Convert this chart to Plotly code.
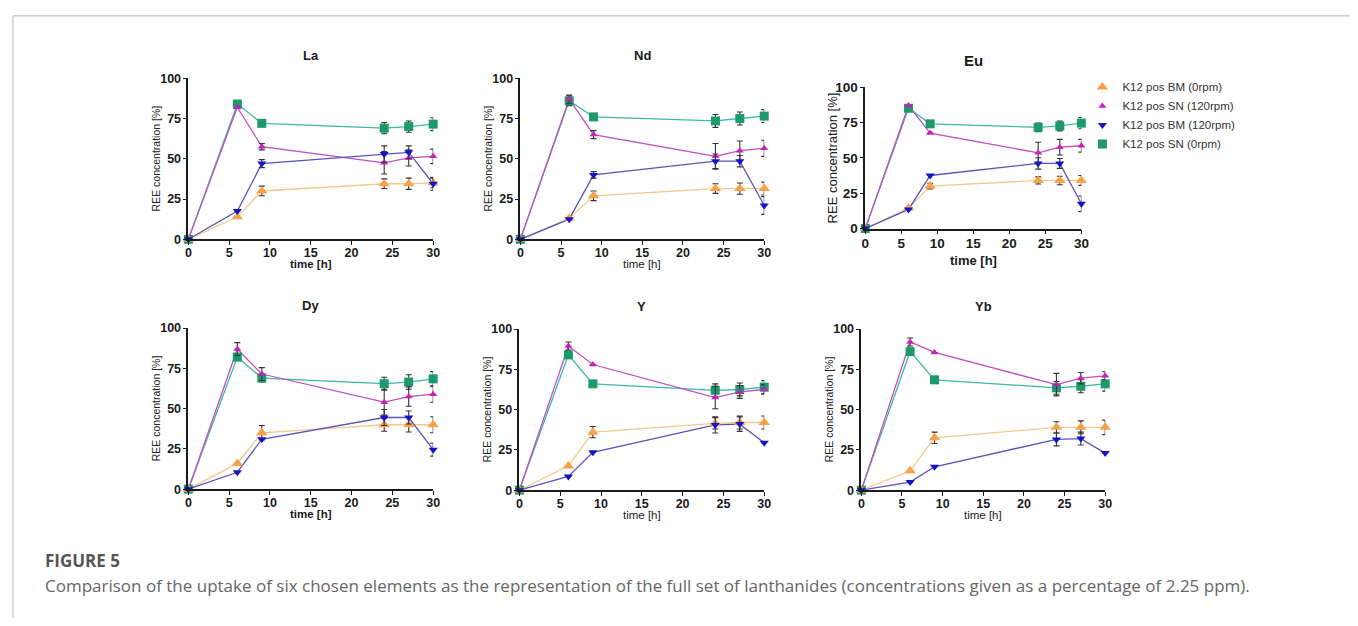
import plotly.graph_objects as go

W, H = 1358, 626

time_h = [0, 6, 9, 24, 27, 30]
elements = ["La", "Nd", "Eu", "Dy", "Y", "Yb"]

series_names = ["K12 pos BM (0rpm)", "K12 pos SN (120rpm)", "K12 pos BM (120rpm)", "K12 pos SN (0rpm)"]

# mean values [%] per element, per series (order as series_names)
bm0 = {
    "La": [0, 14, 30, 34.5, 34.5, 35],
    "Nd": [0, 13, 27, 31.5, 31.5, 31.5],
    "Eu": [0, 14.5, 30, 34, 34, 34],
    "Dy": [0, 16, 35, 40, 40, 40],
    "Y":  [0, 15, 36, 41.5, 42, 42],
    "Yb": [0, 12, 32.5, 39, 39, 39],
}
sn120 = {
    "La": [0, 82, 57.5, 47.5, 50.5, 51.5],
    "Nd": [0, 87, 65, 51.5, 55, 56.5],
    "Eu": [0, 87, 67.5, 53.5, 57.5, 58.5],
    "Dy": [0, 87, 71.5, 54, 57.5, 59],
    "Y":  [0, 89.5, 78, 57.5, 61, 62.5],
    "Yb": [0, 92, 85.5, 65.5, 69.5, 71],
}
bm120 = {
    "La": [0, 17.5, 47, 53, 54, 34.5],
    "Nd": [0, 12.5, 40, 48.5, 48.5, 21],
    "Eu": [0, 13.5, 37.5, 46, 46, 17.5],
    "Dy": [0, 10.5, 31, 44.5, 44.5, 24.5],
    "Y":  [0, 8.5, 23.5, 40.5, 41, 29.5],
    "Yb": [0, 5, 14.5, 31.5, 32, 23],
}
sn0 = {
    "La": [0, 84, 72, 69, 70, 71.5],
    "Nd": [0, 86, 76, 73.5, 75, 76.5],
    "Eu": [0, 85, 74, 71.5, 72.5, 74.5],
    "Dy": [0, 82, 69, 65.5, 66.5, 68.5],
    "Y":  [0, 84, 66, 62, 62.5, 64],
    "Yb": [0, 86, 68.5, 63.5, 64.5, 66],
}
# error bar half-lengths [%]
bm0_err = {
    "La": [0, 0, 3, 3, 3.5, 3],
    "Nd": [0, 0, 3, 3, 3.5, 4],
    "Eu": [0, 0, 2, 2.5, 3, 3.5],
    "Dy": [0, 0, 4.5, 4, 4.5, 5],
    "Y":  [0, 0, 3.5, 3.5, 4, 4],
    "Yb": [0, 0, 3.5, 3.5, 4, 4.5],
}
sn120_err = {
    "La": [0, 0, 2, 7, 5, 4.5],
    "Nd": [0, 2.5, 2.5, 8, 6, 5],
    "Eu": [0, 0, 0, 7.5, 5.5, 4.5],
    "Dy": [0, 4, 4, 8, 6, 5],
    "Y":  [0, 2.5, 0, 7, 4, 3],
    "Yb": [0, 2.5, 0, 7, 3.5, 2.5],
}
bm120_err = {
    "La": [0, 0, 2.5, 5, 4, 4],
    "Nd": [0, 0, 2, 4.5, 3.5, 5.5],
    "Eu": [0, 0, 0, 4, 3.5, 5.5],
    "Dy": [0, 0, 0, 5, 4, 4],
    "Y":  [0, 0, 0, 5, 4.5, 0],
    "Yb": [0, 0, 0, 4, 4, 0],
}
sn0_err = {
    "La": [0, 0, 0, 3.5, 3.5, 4],
    "Nd": [0, 3, 0, 4, 4, 4],
    "Eu": [0, 0, 0, 3, 3.5, 4],
    "Dy": [0, 2, 2.5, 4, 4.5, 4.5],
    "Y":  [0, 0, 0, 4, 4, 4],
    "Yb": [0, 0, 0, 4, 4, 4.5],
}

x_ticks = [0, 5, 10, 15, 20, 25, 30]
y_ticks = [0, 25, 50, 75, 100]

# panel boxes in pixels: x0, x1, ytop, ybottom
boxes = {
    "La": (186, 433, 73, 238),
    "Nd": (521, 767, 73, 238),
    "Eu": (869, 1087, 82, 227),
    "Dy": (186, 433, 329, 494),
    "Y":  (520, 767, 330, 495),
    "Yb": (865, 1111, 330, 495),
}
big = {"Eu"}
bold_xtitle = {"La": True, "Nd": False, "Eu": True, "Dy": True, "Y": False, "Yb": False}

FONT = "Arial, Liberation Sans, sans-serif"

# style per series (draw order: green, orange, magenta, blue)
styles = [
    # name, data, err, marker color, line color, symbol, size, legendrank
    (series_names[3], sn0, sn0_err, "#1C9A6C", "#3DB8A6", "square", 9, 4),
    (series_names[0], bm0, bm0_err, "#F8A14B", "#F2C98F", "triangle-up", 10, 1),
    (series_names[1], sn120, sn120_err, "#C622B8", "#BF4FC3", "triangle-up", 7, 2),
    (series_names[2], bm120, bm120_err, "#1414C4", "#5A55B8", "triangle-down", 8, 3),
]

def px_x(p):
    return p / W

def px_y(p):
    return 1 - p / H

fig = go.Figure()
annotations = []
layout_axes = {}

for i, el in enumerate(elements):
    n = i + 1
    xa = "x" if n == 1 else f"x{n}"
    ya = "y" if n == 1 else f"y{n}"
    x0, x1, yt, yb = boxes[el]
    fs = 13.5 if el in big else 12.5
    common = dict(
        showgrid=False, zeroline=False,
        showline=True, linecolor="#1a1a1a", linewidth=1.6,
        ticks="outside", ticklen=4, tickwidth=1.4, tickcolor="#1a1a1a",
        tickfont=dict(family=FONT, size=fs, color="#1a1a1a", weight="bold"),
        fixedrange=True,
    )
    layout_axes["xaxis" if n == 1 else f"xaxis{n}"] = dict(
        domain=[px_x(x0), px_x(x1)], anchor=ya, range=[0, 30],
        tickvals=x_ticks, ticklabelstandoff=-3, **common)
    layout_axes["yaxis" if n == 1 else f"yaxis{n}"] = dict(
        domain=[px_y(yb), px_y(yt)], anchor=xa, range=[0, 100],
        tickvals=y_ticks, ticklabelstandoff=-1, **common)
    for name, data, err, mc, lc, sym, size, rank in styles:
        fig.add_trace(go.Scatter(
            x=time_h, y=data[el], mode="lines", xaxis=xa, yaxis=ya,
            line=dict(color=lc, width=1.3), showlegend=False,
            hoverinfo="skip", cliponaxis=False,
        ))
    for name, data, err, mc, lc, sym, size, rank in styles:
        fig.add_trace(go.Scatter(
            x=time_h, y=data[el], mode="markers", xaxis=xa, yaxis=ya,
            name=name, legendrank=rank, showlegend=(n == 1),
            marker=dict(color=mc, symbol=sym, size=size, line=dict(width=0)),
            error_y=dict(type="data", array=err[el], visible=True,
                         color="#333333", thickness=1.1, width=3),
            cliponaxis=False,
        ))
    cx = (x0 + x1) / 2
    # panel title
    annotations.append(dict(
        text=el, x=px_x(cx), y=px_y(yt - 23 if el not in big else yt - 27),
        xref="paper", yref="paper", showarrow=False, xanchor="center", yanchor="middle",
        font=dict(family=FONT, size=15 if el in big else 13, color="#1a1a1a", weight="bold"),
    ))
    # x title
    annotations.append(dict(
        text="time [h]", x=px_x(cx), y=px_y(yb + 25 if el not in big else yb + 33),
        xref="paper", yref="paper", showarrow=False, xanchor="center", yanchor="middle",
        font=dict(family=FONT, size=13 if el in big else 11.5, color="#1a1a1a",
                  weight="bold" if bold_xtitle[el] else "normal"),
    ))
    # y title
    annotations.append(dict(
        text="REE concentration [%]", x=px_x(x0 - 33), y=px_y((yt + yb) / 2),
        xref="paper", yref="paper", showarrow=False, xanchor="center", yanchor="middle",
        textangle=-90,
        font=dict(family=FONT, size=13 if el in big else 10.5, color="#222222"),
    ))

# caption
annotations.append(dict(
    text="<b>FIGURE 5</b>", x=px_x(39), y=px_y(567), xref="paper", yref="paper",
    showarrow=False, xanchor="left", yanchor="middle",
    font=dict(family="Open Sans, sans-serif", size=17, color="#555555"),
))
annotations.append(dict(
    text="Comparison of the uptake of six chosen elements as the representation of the full set of lanthanides (concentrations given as a percentage of 2.25 ppm).",
    x=px_x(39), y=px_y(593), xref="paper", yref="paper",
    showarrow=False, xanchor="left", yanchor="middle",
    font=dict(family="Open Sans, sans-serif", size=17, color="#666666"),
))

shapes = [
    dict(type="line", xref="paper", yref="paper", x0=px_x(9), x1=1, y0=px_y(9), y1=px_y(9),
         line=dict(color="#d0d0d0", width=1.5)),
    dict(type="line", xref="paper", yref="paper", x0=px_x(9), x1=px_x(9), y0=px_y(9), y1=0,
         line=dict(color="#d0d0d0", width=1.5)),
]

fig.update_layout(
    width=W, height=H, autosize=False,
    margin=dict(l=0, r=0, t=0, b=0),
    paper_bgcolor="white", plot_bgcolor="white",
    annotations=annotations, shapes=shapes,
    legend=dict(x=px_x(1088), y=px_y(67), xanchor="left", yanchor="top",
                font=dict(family=FONT, size=11.5, color="#333333"),
                bgcolor="rgba(0,0,0,0)", tracegroupgap=0, itemwidth=30),
    showlegend=True,
    **layout_axes,
)

fig.write_html(
    "out.html",
    config={"displayModeBar": False},
    post_script="document.body.style.margin='0';document.body.style.overflow='hidden';",
)
